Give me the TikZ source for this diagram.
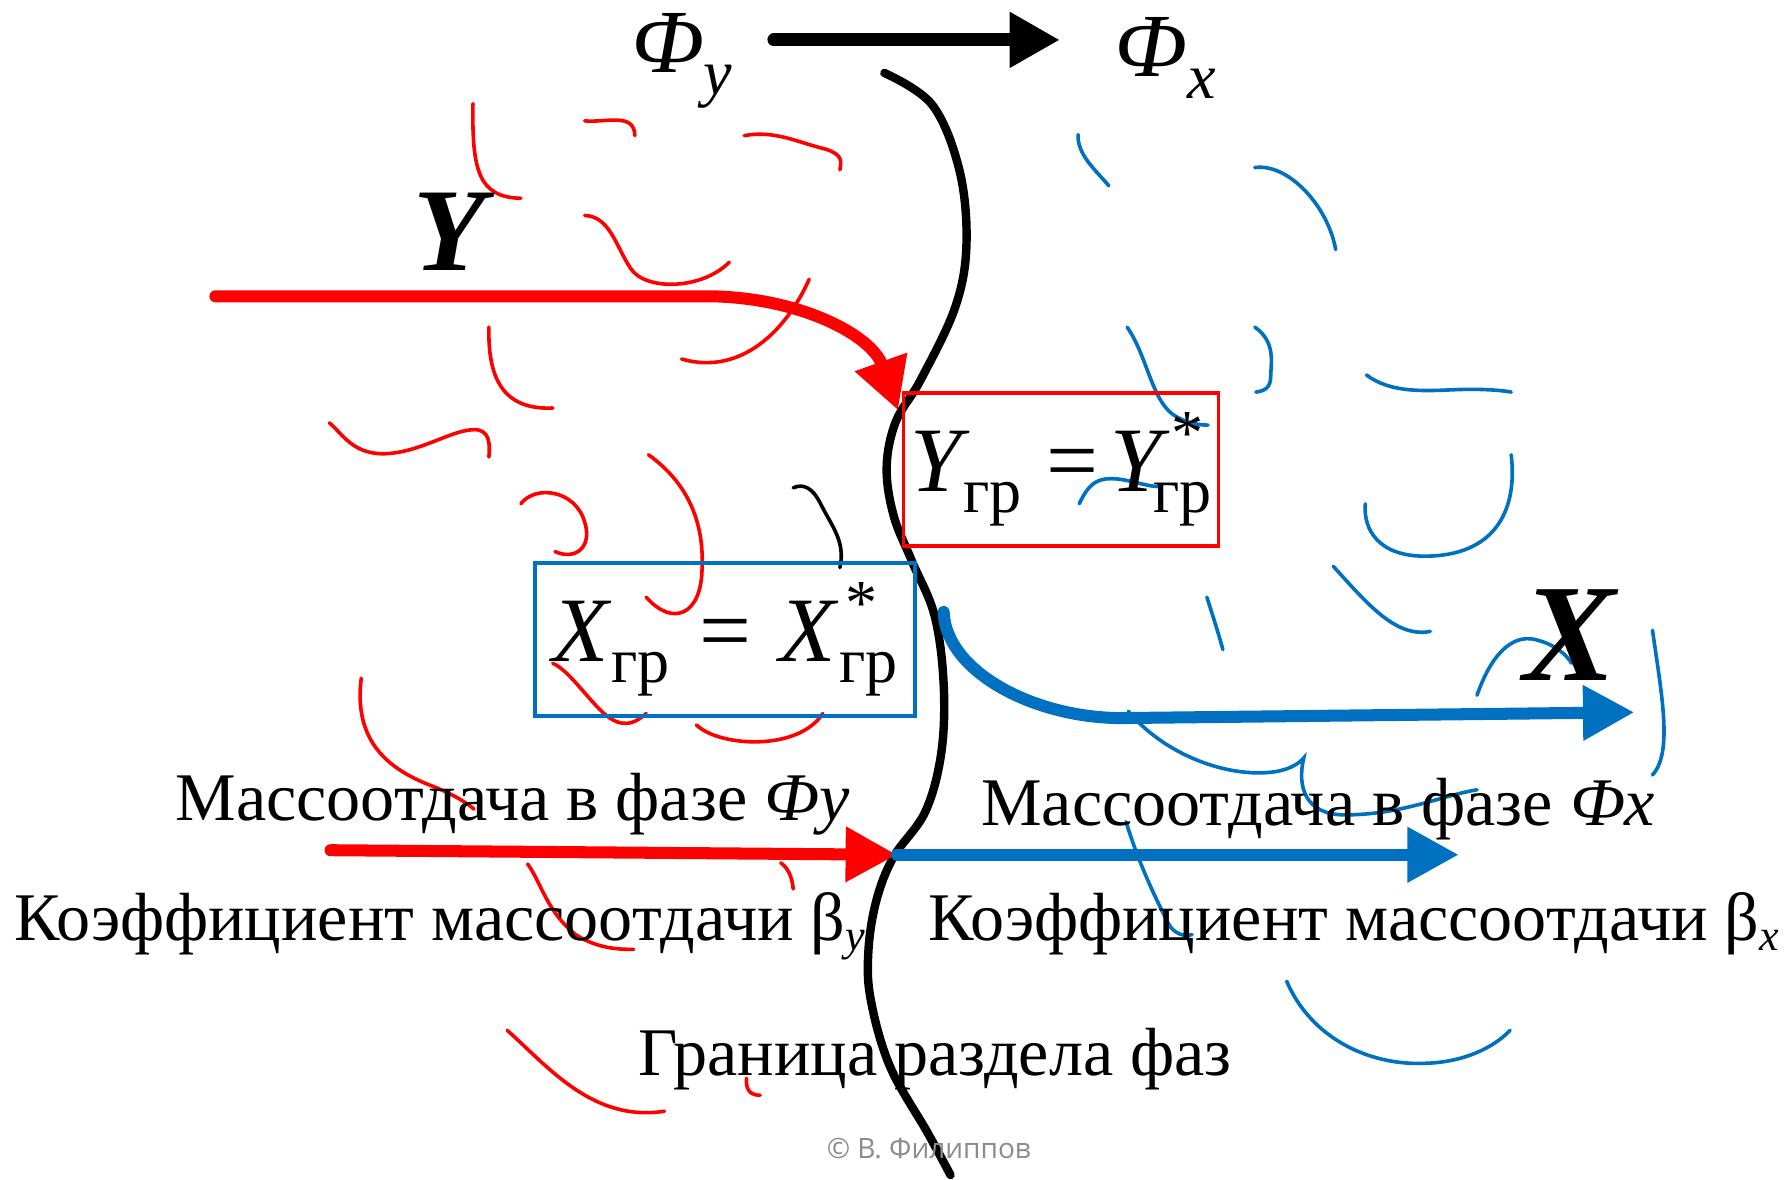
\documentclass[tikz,border=0pt]{standalone}
\usepackage{fontspec}
\setmainfont{Liberation Serif}
\newfontfamily\wmfont{Open Sans}
\usetikzlibrary{arrows.meta}

\definecolor{phasered}{RGB}{255,0,0}
\definecolor{phaseblue}{RGB}{0,112,192}
\definecolor{wmgray}{RGB}{140,140,140}

\newcommand{\grsub}{\raisebox{-5.2pt}{\fontsize{16}{16}\selectfont гр}}
\newcommand{\grstar}[1]{\rlap{\hspace{#1}\raisebox{9.2pt}{\fontsize{16}{16}\selectfont *}}\grsub}
\newcommand{\phisub}[1]{\textit{Ф}\raisebox{-5.5pt}{\fontsize{16}{16}\selectfont\textit{#1}}}
\newcommand{\betasub}[1]{β\raisebox{-2.5pt}{\fontsize{11}{11}\selectfont\textit{#1}}}

\begin{document}
\begin{tikzpicture}[x=0.01cm,y=-0.01cm,
  every node/.style={inner sep=0pt,outer sep=0pt},
  fatarrow/.style={line width=3pt,line cap=round,-{Triangle[length=0.45cm,width=0.46cm]}},
  squiggle/.style={line width=0.9pt,line cap=round},
  boundary/.style={line width=2.1pt,line cap=round},
  eqbox/.style={rectangle,draw,line width=0.9pt,minimum height=1.34cm,font=\fontsize{23}{23}\selectfont},
  phasetext/.style={anchor=base west,font=\fontsize{17}{17}\selectfont},
  phiname/.style={anchor=base west,font=\fontsize{22.5}{23}\selectfont}
]
  \fill[white] (0,0) rectangle (1568,1035);

  % red eddies, phase y
  \begin{scope}[squiggle,phasered]
    \draw (415,91) .. controls (414,150) and (420,173) .. (457,174);
    \draw (513,106) .. controls (530,108) and (557,98) .. (557,119);
    \draw (653,119) .. controls (680,114) and (700,125) .. (725,131) .. controls (740,136) and (738,142) .. (737,149);
    \draw (513,189) .. controls (535,190) and (540,215) .. (553,235) .. controls (565,255) and (615,255) .. (640,230);
    \draw (710,245) .. controls (690,290) and (650,330) .. (598,315);
    \draw (429,287) .. controls (428,330) and (440,360) .. (485,358);
    \draw (289,371) .. controls (300,380) and (310,400) .. (340,398) .. controls (370,396) and (395,378) .. (415,377) .. controls (430,376) and (430,390) .. (429,401);
    \draw (457,442) .. controls (470,425) and (505,430) .. (513,458) .. controls (520,480) and (505,492) .. (487,484);
    \draw (569,399) .. controls (605,425) and (618,460) .. (616,500) .. controls (615,540) and (590,550) .. (567,524);
    \draw (485,582) .. controls (500,588) and (520,620) .. (535,630) .. controls (550,640) and (560,632) .. (567,626);
    \draw (611,636) .. controls (630,655) and (700,660) .. (722,626);
    \draw (317,595) .. controls (310,650) and (340,675) .. (380,690) .. controls (400,698) and (410,705) .. (416,710);
    \draw (463,758) .. controls (475,775) and (480,800) .. (505,820) .. controls (525,833) and (545,833) .. (556,833);
    \draw (685,757) .. controls (692,762) and (695,770) .. (696,780);
    \draw (445,904) .. controls (480,935) and (520,985) .. (583,975);
    \draw (655,946) .. controls (654,958) and (660,961) .. (667,961);
  \end{scope}

  % blue eddies, phase x
  \begin{scope}[squiggle,phaseblue]
    \draw (946,118) .. controls (945,135) and (960,148) .. (973,163);
    \draw (1101,147) .. controls (1130,143) and (1165,180) .. (1172,219);
    \draw (989,287) .. controls (1005,310) and (1010,345) .. (1025,360) .. controls (1035,370) and (1050,373) .. (1060,373);
    \draw (1101,287) .. controls (1120,300) and (1115,320) .. (1115,330) .. controls (1115,340) and (1110,343) .. (1102,344);
    \draw (1199,329) .. controls (1220,345) and (1250,343) .. (1275,342) .. controls (1295,341) and (1315,342) .. (1326,344);
    \draw (947,442) .. controls (955,425) and (962,420) .. (975,420) .. controls (990,420) and (1005,427) .. (1018,427);
    \draw (1326,399) .. controls (1332,450) and (1310,488) .. (1250,488) .. controls (1210,488) and (1196,465) .. (1198,442);
    \draw (1059,524) .. controls (1064,540) and (1069,555) .. (1073,570);
    \draw (1170,497) .. controls (1200,530) and (1225,560) .. (1255,554);
    \draw (1296,610) .. controls (1310,570) and (1330,555) .. (1350,562) .. controls (1365,566) and (1375,575) .. (1379,582);
    \draw (1450,553) .. controls (1458,610) and (1468,660) .. (1450,680);
    \draw (990,624) .. controls (1020,660) and (1070,680) .. (1110,678) .. controls (1130,677) and (1140,670) .. (1144,665)
      .. controls (1138,690) and (1145,715) .. (1180,715) .. controls (1230,715) and (1265,698) .. (1296,693);
    \draw (988,721) .. controls (1000,760) and (1015,790) .. (1025,810) .. controls (1030,820) and (1040,822) .. (1046,820);
    \draw (1129,861) .. controls (1150,910) and (1200,935) .. (1250,933) .. controls (1290,932) and (1315,915) .. (1325,904);
  \end{scope}
  \draw[squiggle] (696,428) .. controls (705,424) and (713,428) .. (720,442) .. controls (730,462) and (742,475) .. (737,498);

  % phase boundary
  \draw[boundary] plot[smooth,tension=0.6] coordinates {(776,64) (818,92) (842,150) (848,215) (838,270) (808,333)
    (786,370) (778,410) (784,452) (800,492) (820,540) (828,600) (826,660) (812,712) (784,752) (769,790)
    (762,834) (764,877) (781,936) (814,994) (834,1031)};

  % labels
  \node[phiname] (phiy) at (554,64) {\phisub{y}};
  \node[phiname] (phix) at (978,67) {\phisub{x}};
  \node[anchor=base west,font=\fontsize{29.5}{30}\selectfont\bfseries\itshape] (ylab) at (363,237) {Y};
  \node[anchor=base west,font=\fontsize{34.6}{35}\selectfont\bfseries\itshape] (xlab) at (1337,597) {X};

  \node[eqbox,draw=phasered,minimum width=2.765cm] (ygr) at (931,412)
    {\textit{Y}\kern-1.5pt\grsub\kern6pt=\kern3pt\textit{Y}\kern-4pt\grstar{4.5pt}};
  \node[eqbox,draw=phaseblue,minimum width=3.334cm] (xgr) at (636,561)
    {\textit{X}\grsub\kern7.5pt=\kern7pt\textit{X}\grstar{1.7pt}};

  \node[phasetext] (masy) at (154,720) {Массоотдача в фазе \textit{Фy}};
  \node[phasetext] (koefy) at (13,825) {Коэффициент массоотдачи \betasub{y}};
  \node[phasetext] (masx) at (861,724) {Массоотдача в фазе \textit{Фx}};
  \node[phasetext] (koefx) at (815,825) {Коэффициент массоотдачи \betasub{x}};
  \node[phasetext] (border) at (560,944) {Граница раздела фаз};
  \node[font=\wmfont\fontsize{7}{7}\selectfont,text=wmgray] (copy) at (815,1008) {© В. Филиппов};

  % flows
  \coordinate (phistart) at (679,35);
  \coordinate (phiend) at (930,35);
  \draw[line width=3.2pt,line cap=round,-{Triangle[length=0.44cm,width=0.46cm]}] (phistart) -- (phiend);

  \coordinate (yin) at (189,260);
  \coordinate (ybend) at (626,260);
  \coordinate (yhit) at (788,360);
  \draw[fatarrow,phasered] (yin) -- (ybend) .. controls +(79,2) and +(-23,-65) .. (yhit);

  \coordinate (xout) at (828,537);
  \coordinate (xbend) at (990,630);
  \coordinate (xend) at (1434,625);
  \draw[fatarrow,phaseblue] (xout) .. controls +(2,53) and +(-80,2) .. (xbend) -- (xend);

  \coordinate (ystart) at (290,746);
  \coordinate (meet) at (787,750);
  \coordinate (xfin) at (1280,750);
  \draw[fatarrow,phasered] (ystart) -- (meet);
  \draw[fatarrow,phaseblue] (meet) -- (xfin);
\end{tikzpicture}
\end{document}
